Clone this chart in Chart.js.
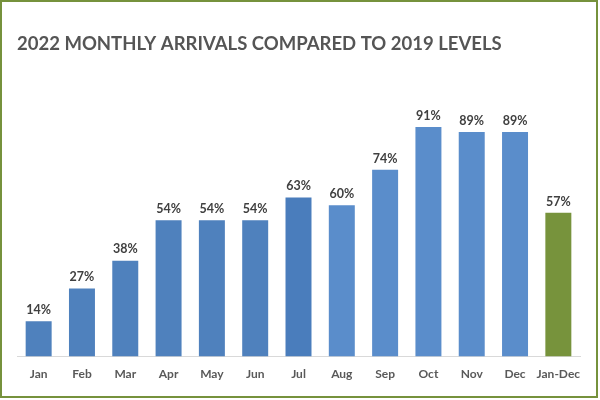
<!DOCTYPE html>
<html>
<head>
<meta charset="utf-8">
<script src="https://cdn.jsdelivr.net/npm/chart.js@4"></script>
<style>
  html, body { margin: 0; padding: 0; background: #fff; }
  .frame {
    width: 598px;
    height: 398px;
    box-sizing: border-box;
    border: 2px solid #76923c;
  }
</style>
</head>
<body>
<div class="frame">
  <canvas id="myChart" width="594" height="394"></canvas>
</div>
<script>
const months = ["Jan", "Feb", "Mar", "Apr", "May", "Jun", "Jul", "Aug", "Sep", "Oct", "Nov", "Dec", "Jan-Dec"];
const arrivals = [14, 27, 38, 54, 54, 54, 63, 60, 74, 91, 89, 89, 57];
const barColors = [
  "#4f81bd", "#4f81bd", "#4f81bd", "#4f81bd", "#4f81bd", "#4f81bd", "#4a7dbc",
  "#5a8dcb", "#5a8dcb", "#5a8dcb", "#5a8dcb", "#5a8dcb", "#77933c",
];

const fontFamily = "Lato, 'Open Sans', sans-serif";

// little plugin for the % labels on top of the bars
const barLabels = {
  id: "barLabels",
  afterDatasetsDraw(chart) {
    const ctx = chart.ctx;
    const meta = chart.getDatasetMeta(0);
    ctx.save();
    ctx.font = "bold 12.5px " + fontFamily;
    ctx.fillStyle = "#404040";
    ctx.textAlign = "center";
    ctx.textBaseline = "bottom";
    meta.data.forEach((bar, i) => {
      ctx.fillText(arrivals[i] + "%", bar.x, bar.y - 5);
    });
    ctx.restore();
  },
};

const ctx = document.getElementById("myChart").getContext("2d");
new Chart(ctx, {
  type: "bar",
  data: {
    labels: months,
    datasets: [
      {
        data: arrivals,
        backgroundColor: barColors,
        barPercentage: 0.6,
        categoryPercentage: 1,
      },
    ],
  },
  options: {
    responsive: false,
    animation: false,
    layout: { padding: { left: 15, right: 16, top: 0, bottom: 13 } },
    plugins: {
      legend: { display: false },
      tooltip: { enabled: false },
      title: {
        display: true,
        text: "2022 MONTHLY ARRIVALS COMPARED TO 2019 LEVELS",
        align: "start",
        color: "#555555",
        font: { family: fontFamily, size: 18.5, weight: "bold" },
        padding: { top: 31, bottom: 49 },
      },
    },
    scales: {
      x: {
        grid: { display: false },
        border: { display: true, color: "#d9d9d9" },
        ticks: {
          color: "#595959",
          font: { family: fontFamily, size: 12, weight: "bold" },
          padding: 2,
          maxRotation: 0,
          minRotation: 0,
          autoSkip: false,
        },
      },
      y: {
        display: false,
        min: 0,
        max: 100,
      },
    },
  },
  plugins: [barLabels],
});
</script>
</body>
</html>
